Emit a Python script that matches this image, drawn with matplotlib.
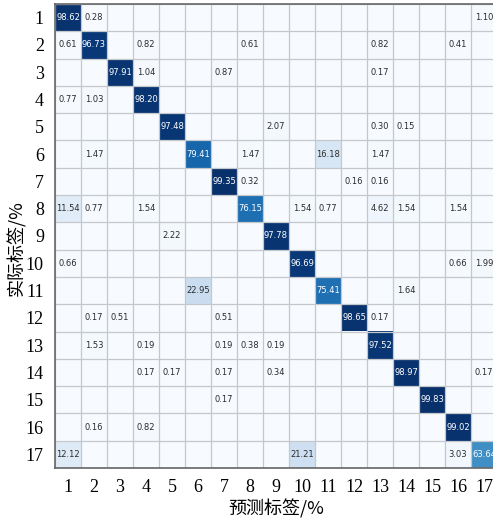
import numpy as np
import matplotlib
matplotlib.use("Agg")
import matplotlib.pyplot as plt

# 混淆矩阵 (行: 实际, 列: 预测), 单位 %
labels = [str(i) for i in range(1, 18)]
cells = {
    1: {1: 98.62, 2: 0.28, 17: 1.10},
    2: {1: 0.61, 2: 96.73, 4: 0.82, 8: 0.61, 13: 0.82, 16: 0.41},
    3: {3: 97.91, 4: 1.04, 7: 0.87, 13: 0.17},
    4: {1: 0.77, 2: 1.03, 4: 98.20},
    5: {5: 97.48, 9: 2.07, 13: 0.30, 14: 0.15},
    6: {2: 1.47, 6: 79.41, 8: 1.47, 11: 16.18, 13: 1.47},
    7: {7: 99.35, 8: 0.32, 12: 0.16, 13: 0.16},
    8: {1: 11.54, 2: 0.77, 4: 1.54, 8: 76.15, 10: 1.54, 11: 0.77, 13: 4.62, 14: 1.54, 16: 1.54},
    9: {5: 2.22, 9: 97.78},
    10: {1: 0.66, 10: 96.69, 16: 0.66, 17: 1.99},
    11: {6: 22.95, 11: 75.41, 14: 1.64},
    12: {2: 0.17, 3: 0.51, 7: 0.51, 12: 98.65, 13: 0.17},
    13: {2: 1.53, 4: 0.19, 7: 0.19, 8: 0.38, 9: 0.19, 13: 97.52},
    14: {4: 0.17, 5: 0.17, 7: 0.17, 9: 0.34, 14: 98.97, 17: 0.17},
    15: {7: 0.17, 15: 99.83},
    16: {2: 0.16, 4: 0.82, 16: 99.02},
    17: {1: 12.12, 10: 21.21, 16: 3.03, 17: 63.64},
}

n = len(labels)
cm = np.zeros((n, n))
for r, row in cells.items():
    for c, v in row.items():
        cm[r - 1, c - 1] = v

fig = plt.figure(figsize=(4.93, 5.22), dpi=100)
W, H = 493, 522
# 右侧一列被裁掉一部分, 与原图一致
ax = fig.add_axes([55 / W, (H - 468) / H, 442 / W, 464 / H])

ax.imshow(cm, cmap="Blues", vmin=0, vmax=100, aspect="auto", interpolation="nearest")

# 网格线
for k in range(n + 1):
    ax.axhline(k - 0.5, color="#c4c8cc", lw=0.9)
    ax.axvline(k - 0.5, color="#c4c8cc", lw=0.9)

for i in range(n):
    for j in range(n):
        v = cm[i, j]
        if v > 0:
            col = "white" if v > 50 else "#2b2b2b"
            ax.text(j, i, f"{v:.2f}", ha="center", va="center",
                    fontsize=6, color=col, family="DejaVu Sans")

ax.set_xticks(range(n))
ax.set_yticks(range(n))
ax.set_xticklabels(labels, family="Liberation Serif", fontsize=13)
ax.set_yticklabels(labels, family="Liberation Serif", fontsize=13)
ax.tick_params(length=0, pad=8)
ax.set_xlim(-0.5, n - 0.5)
ax.set_ylim(n - 0.5, -0.5)

for s in ax.spines.values():
    s.set_color("#666666")
    s.set_linewidth(1.2)

ax.set_xlabel("预测标签/%", family=["Noto Sans CJK SC", "DejaVu Sans"], fontsize=13, labelpad=2)
ax.set_ylabel("实际标签/%", family=["Noto Sans CJK SC", "DejaVu Sans"], fontsize=13)
ax.yaxis.set_label_coords(-0.065, 0.474)

fig.savefig("out.png", dpi=100)
